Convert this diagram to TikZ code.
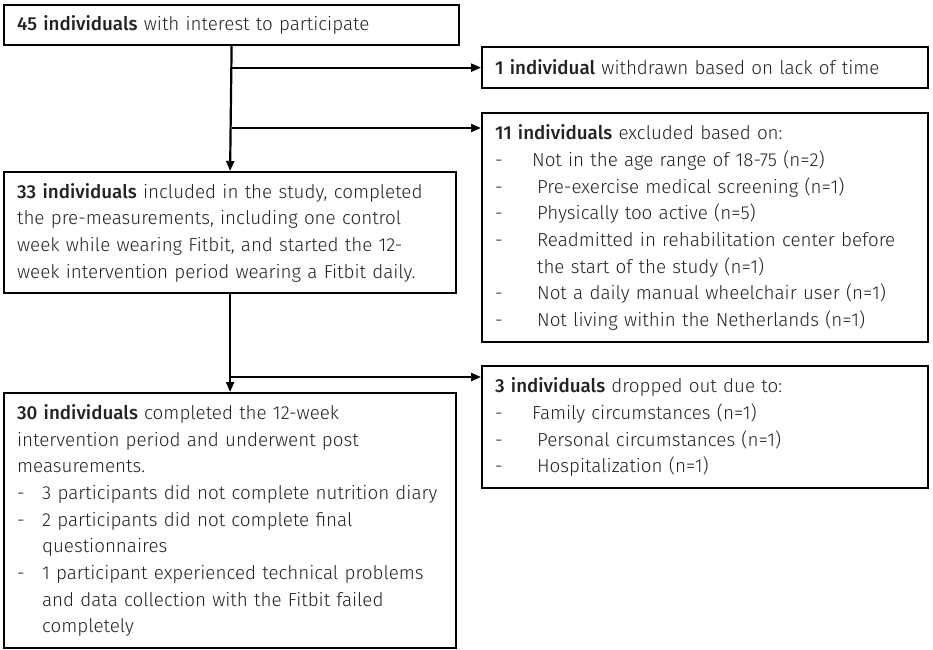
\documentclass[tikz,border=0pt]{standalone}
\usepackage{fontspec}
\setmainfont{Fira Sans}[UprightFont={* Light}, BoldFont={* Medium}]
\usetikzlibrary{arrows.meta,positioning}
\definecolor{flowText}{HTML}{222222}
\newcommand{\flowFont}{\fontsize{18.8}{26.7}\selectfont}
\newcommand{\dashItem}[2]{\makebox[#1][l]{-}#2}

\begin{document}
\begin{tikzpicture}[x=1pt, y=-1pt, line width=2.2pt,
    flowbox/.style={draw, anchor=north west, align=left, inner xsep=13pt, inner ysep=0pt, text=flowText, font=\flowFont},
    flowarrow/.style={-{Triangle[length=10pt,width=8pt]}}]
	\useasboundingbox (0,0) rectangle (933,649);
	% main column
	\node[flowbox, text width=429pt, minimum height=40pt] (interest) at (3,4)
		{\textbf{45 individuals} with interest to participate};
	\node[flowbox, text width=426pt, minimum height=121pt] (included) at (3,171)
		{\textbf{33 individuals} included in the study, completed\\
		the pre-measurements, including one control\\
		week while wearing Fitbit, and started the 12-\\
		week intervention period wearing a Fitbit daily.};
	\node[flowbox, text width=426pt, minimum height=255pt] (completed) at (3,392)
		{\textbf{30 individuals} completed the 12-week\\
		intervention period and underwent post\\
		measurements.\\
		\dashItem{25pt}{3 participants did not complete nutrition diary}\\
		\dashItem{25pt}{2 participants did not complete final}\\
		\hspace*{25pt}questionnaires\\
		\dashItem{25pt}{1 participant experienced technical problems}\\
		\hspace*{25pt}and data collection with the Fitbit failed\\
		\hspace*{25pt}completely};
	% side boxes
	\node[flowbox, text width=420pt, minimum height=41pt] (withdrawn) at (481,46)
		{\textbf{1 individual} withdrawn based on lack of time};
	\node[flowbox, text width=420pt, minimum height=229pt] (excluded) at (481,112)
		{\textbf{11 individuals} excluded based on:\\
		\dashItem{37pt}{Not in the age range of 18-75 (n=2)}\\
		\dashItem{42pt}{Pre-exercise medical screening (n=1)}\\
		\dashItem{42pt}{Physically too active (n=5)}\\
		\dashItem{42pt}{Readmitted in rehabilitation center before}\\
		\hspace*{42pt}the start of the study (n=1)\\
		\dashItem{42pt}{Not a daily manual wheelchair user (n=1)}\\
		\dashItem{42pt}{Not living within the Netherlands (n=1)}};
	\node[flowbox, text width=420pt, minimum height=122pt] (dropped) at (481,365)
		{\textbf{3 individuals} dropped out due to:\\
		\dashItem{37pt}{Family circumstances (n=1)}\\
		\dashItem{42pt}{Personal circumstances (n=1)}\\
		\dashItem{42pt}{Hospitalization (n=1)}};
	% connectors
	\coordinate (excludedIn) at ([yshift=-16pt]excluded.north west);
	\coordinate (droppedIn) at ([yshift=-12pt]dropped.north west);
	\draw[flowarrow] (interest.south) -- (included.north);
	\draw[flowarrow] (interest.south |- withdrawn.west) -- (withdrawn.west);
	\draw[flowarrow] (interest.south |- excludedIn) -- (excludedIn);
	\draw[flowarrow] (included.south) -- (completed.north);
	\draw[flowarrow] (included.south |- droppedIn) -- (droppedIn);
\end{tikzpicture}
\end{document}
